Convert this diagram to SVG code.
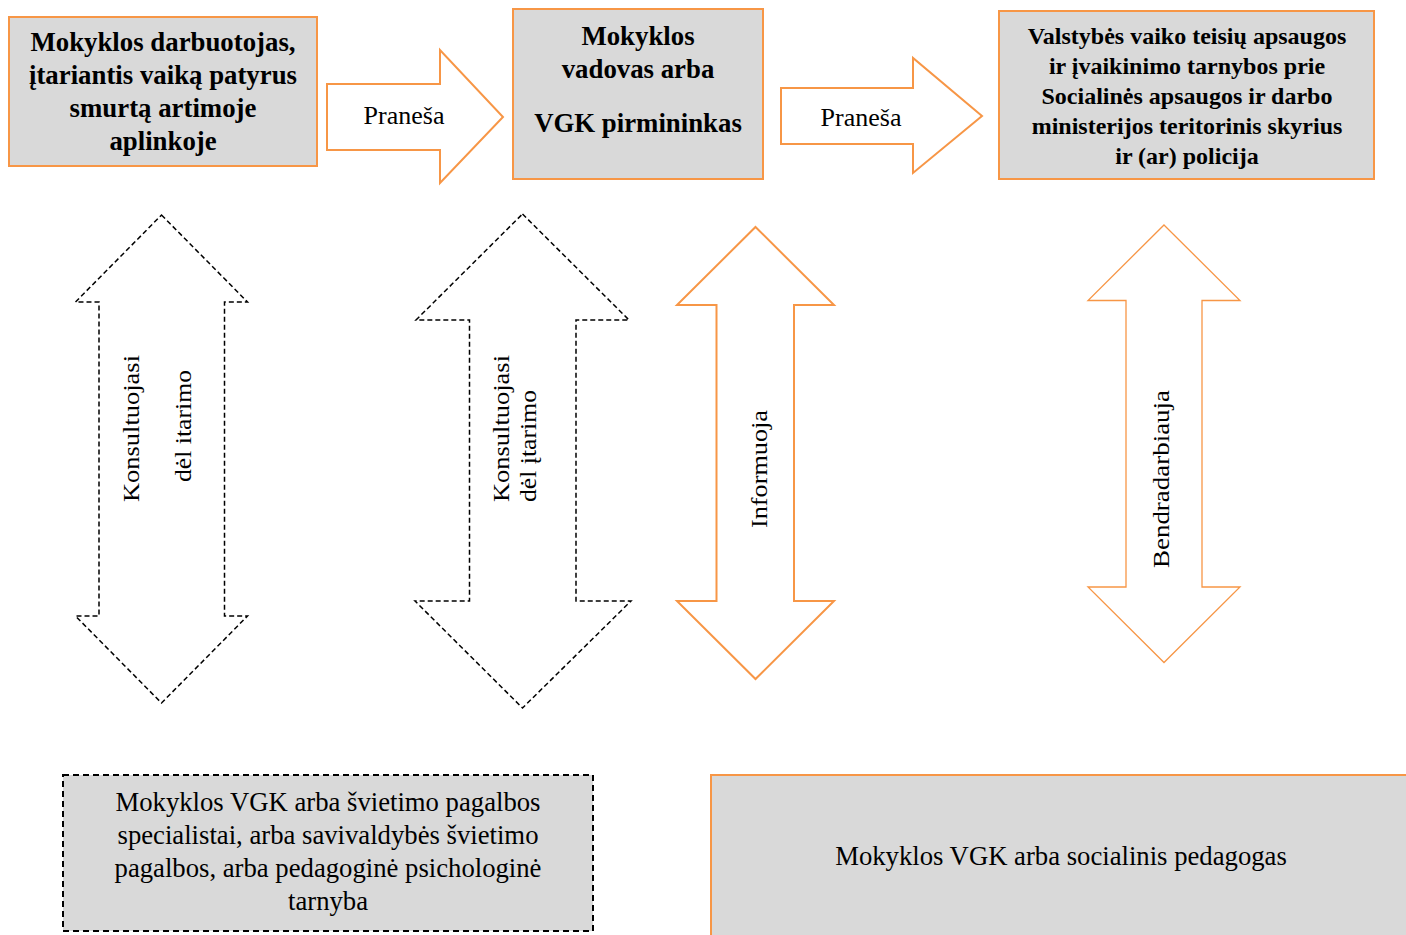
<svg xmlns="http://www.w3.org/2000/svg" width="1406" height="935" viewBox="0 0 1406 935">
<style>
.box{fill:#d9d9d9;stroke:#f79646;stroke-width:2}
.dbox{fill:#d9d9d9;stroke:#000;stroke-width:2;stroke-dasharray:6 4}
.oarrow{fill:#fff;stroke:#f79646;stroke-width:2;stroke-linejoin:miter}
.oarrow2{fill:#fff;stroke:#f79646;stroke-width:1.3}
.darrow{fill:#fff;stroke:#000;stroke-width:1.5;stroke-dasharray:5 3}
.b{font-family:"Liberation Serif","Times New Roman",serif;font-weight:bold;fill:#000;text-anchor:middle}
.r{font-family:"Liberation Serif","Times New Roman",serif;fill:#000;text-anchor:middle}
</style>
<rect width="1406" height="935" fill="#fff"/>

<g id="node-worker">
<rect class="box" x="9" y="17" width="308" height="149"/>
<text class="b" font-size="26.8" x="163" y="51">Mokyklos darbuotojas,</text>
<text class="b" font-size="26.8" x="163" y="84">įtariantis vaiką patyrus</text>
<text class="b" font-size="26.8" x="163" y="117">smurtą artimoje</text>
<text class="b" font-size="26.8" x="163" y="150">aplinkoje</text>
</g>

<g id="node-head">
<rect class="box" x="513" y="9" width="250" height="170"/>
<text class="b" font-size="26.8" x="638" y="45">Mokyklos</text>
<text class="b" font-size="26.8" x="638" y="78">vadovas arba</text>
<text class="b" font-size="26.8" x="638" y="132">VGK pirmininkas</text>
</g>

<g id="node-service">
<rect class="box" x="999" y="11" width="375" height="168"/>
<text class="b" font-size="24" x="1187" y="44">Valstybės vaiko teisių apsaugos</text>
<text class="b" font-size="24" x="1187" y="74">ir įvaikinimo tarnybos prie</text>
<text class="b" font-size="24" x="1187" y="104">Socialinės apsaugos ir darbo</text>
<text class="b" font-size="24" x="1187" y="134">ministerijos teritorinis skyrius</text>
<text class="b" font-size="24" x="1187" y="164">ir (ar) policija</text>
</g>

<g id="node-specialists">
<rect class="dbox" x="63" y="775" width="530" height="156"/>
<text class="r" font-size="26.7" x="328" y="811">Mokyklos VGK arba švietimo pagalbos</text>
<text class="r" font-size="26.7" x="328" y="844">specialistai, arba savivaldybės švietimo</text>
<text class="r" font-size="26.7" x="328" y="877">pagalbos, arba pedagoginė psichologinė</text>
<text class="r" font-size="26.7" x="328" y="910">tarnyba</text>
</g>

<g id="node-social">
<rect class="box" x="711" y="775" width="701" height="170"/>
<text class="r" font-size="26.7" x="1061" y="865">Mokyklos VGK arba socialinis pedagogas</text>
</g>

<g id="connectors">
<g id="arrow-pranesa-1">
<polygon class="oarrow" points="327,84 440,84 440,50 503,117 440,183 440,150 327,150"/>
<text class="r" font-size="26" x="404" y="124">Praneša</text>
</g>
<g id="arrow-pranesa-2">
<polygon class="oarrow" points="781,88 913,88 913,58 982,116 913,173 913,144 781,144"/>
<text class="r" font-size="26" x="861" y="126">Praneša</text>
</g>
<g id="arrow-konsult-1">
<polygon class="darrow" points="161.5,215 247.5,302 224.5,302 224.5,616 247.5,616 161.5,703 75.5,616 99,616 99,302 75.5,302"/>
<text class="r" font-size="23.5" transform="translate(139,428.5) rotate(-90)" textLength="147" lengthAdjust="spacingAndGlyphs">Konsultuojasi</text>
<text class="r" font-size="23.5" transform="translate(191,426) rotate(-90)" textLength="112" lengthAdjust="spacingAndGlyphs">dėl itarimo</text>
</g>
<g id="arrow-konsult-2">
<polygon class="darrow" points="522.5,214 629,320 576,320 576,601 631,601 522.5,708 415,601 469.5,601 469.5,320 416,320"/>
<text class="r" font-size="23.5" transform="translate(509,428.5) rotate(-90)" textLength="147" lengthAdjust="spacingAndGlyphs">Konsultuojasi</text>
<text class="r" font-size="23.5" transform="translate(536,446) rotate(-90)" textLength="112" lengthAdjust="spacingAndGlyphs">dėl įtarimo</text>
</g>
<g id="arrow-informuoja">
<polygon class="oarrow" points="755.5,227 834,305 794,305 794,601 834,601 755.5,679 677,601 716.5,601 716.5,305 677,305"/>
<text class="r" font-size="23.5" transform="translate(767,469) rotate(-90)" textLength="118" lengthAdjust="spacingAndGlyphs">Informuoja</text>
</g>
<g id="arrow-bendradarbiauja">
<polygon class="oarrow2" points="1164,225 1240,300.5 1202,300.5 1202,587 1240,587 1164,662.5 1088,587 1126,587 1126,300.5 1088,300.5"/>
<text class="r" font-size="23.5" transform="translate(1169,479) rotate(-90)" textLength="178" lengthAdjust="spacingAndGlyphs">Bendradarbiauja</text>
</g>
</g>
</svg>
